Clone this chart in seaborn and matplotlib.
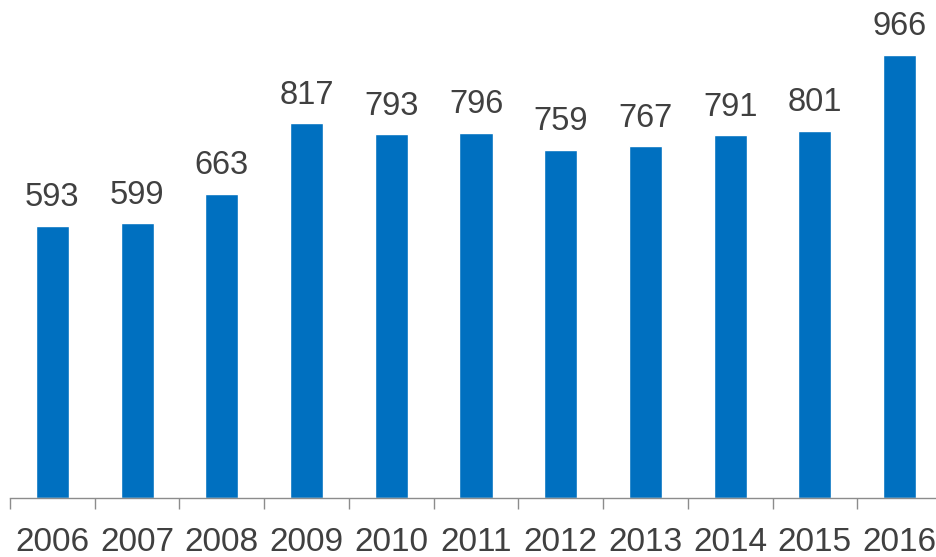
import numpy as np
import pandas as pd
import matplotlib.pyplot as plt
import seaborn as sns

years = ['2006', '2007', '2008', '2009', '2010', '2011', '2012', '2013', '2014', '2015', '2016']
values = [593, 599, 663, 817, 793, 796, 759, 767, 791, 801, 966]

df = pd.DataFrame({'year': years, 'value': values})

sns.set_style('white')
plt.rcParams['font.family'] = ['Liberation Sans', 'DejaVu Sans']

fig = plt.figure(figsize=(9.36, 5.57), dpi=100)
ax = fig.add_axes([10 / 936, 59 / 557, 932 / 936, 498 / 557])

sns.barplot(data=df, x='year', y='value', color='#0070C0', saturation=1,
            width=0.39, ax=ax)

ax.set_ylim(0, 1086)
ax.set_xlim(-0.5, len(years) - 0.5)

# value labels above bars
for i, v in enumerate(values):
    ax.text(i, v + 43, str(v), ha='center', va='baseline', fontsize=23.5,
            color='#404040')

# ticks between categories, labels at centres
ax.set_xticks(np.arange(-0.5, len(years), 1.0))
ax.set_xticklabels([])
ax.set_xticks(np.arange(len(years)), minor=True)
ax.set_xticklabels(years, minor=True, fontsize=24, color='#404040')
ax.tick_params(axis='x', which='major', length=8, width=1, color='#8c8c8c',
               direction='out', bottom=True)
ax.tick_params(axis='x', which='minor', length=0, pad=21)

ax.set_yticks([])
ax.set_xlabel('')
ax.set_ylabel('')
for s in ['top', 'right', 'left']:
    ax.spines[s].set_visible(False)
ax.spines['bottom'].set_color('#8c8c8c')
ax.spines['bottom'].set_linewidth(1)

fig.savefig('out.png', dpi=100)
